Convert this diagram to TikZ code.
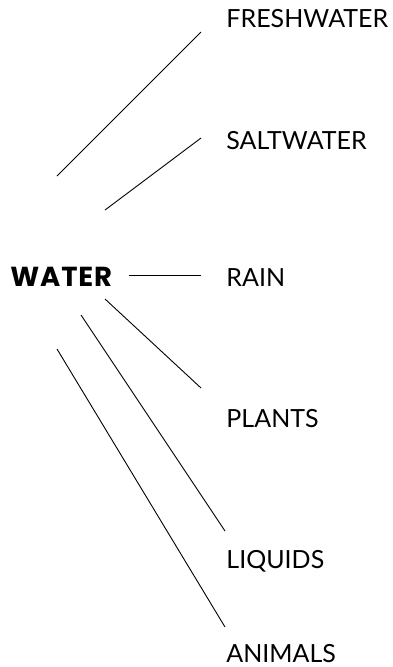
\documentclass[tikz,border=0pt]{standalone}
\usepackage{fontspec}
\setmainfont{Lato}
\newfontfamily\hubfont{Poppins}
\usetikzlibrary{positioning}

\begin{document}
\begin{tikzpicture}[x=1pt,y=-1pt,line width=0.9pt,
  lbl/.style={anchor=base west,inner sep=0pt,font=\fontsize{25}{28}\selectfont},
  hub/.style={anchor=base west,inner sep=0pt,
    font=\hubfont\fontsize{27.5}{30}\selectfont\bfseries\addfontfeature{LetterSpace=3}}]
\useasboundingbox (0,0) rectangle (393,667);
% central word and its branches
\node[hub] (water) at (10,286) {WATER};
\node[lbl] (fresh) at (226,27) {FRESHWATER};
\node[lbl] (salt) at (226,149) {SALTWATER};
\node[lbl] (rain) at (226,286) {RAIN};
\node[lbl] (plants) at (226,427) {PLANTS};
\node[lbl] (liquids) at (226,568) {LIQUIDS};
\node[lbl] (animals) at (226,662) {ANIMALS};
% line ends
\coordinate (fresh-a) at (57,176);   \coordinate (fresh-b) at (201,32);
\coordinate (salt-a) at (105,210);   \coordinate (salt-b) at (201,138);
\coordinate (rain-a) at (129,275);   \coordinate (rain-b) at (201,275);
\coordinate (plants-a) at (105,299); \coordinate (plants-b) at (201,388);
\coordinate (liq-a) at (81,315);     \coordinate (liq-b) at (225,531);
\coordinate (ani-a) at (57,349);     \coordinate (ani-b) at (225,627);
\draw (fresh-a)--(fresh-b);
\draw (salt-a)--(salt-b);
\draw (rain-a)--(rain-b);
\draw (plants-a)--(plants-b);
\draw (liq-a)--(liq-b);
\draw (ani-a)--(ani-b);
\end{tikzpicture}
\end{document}
